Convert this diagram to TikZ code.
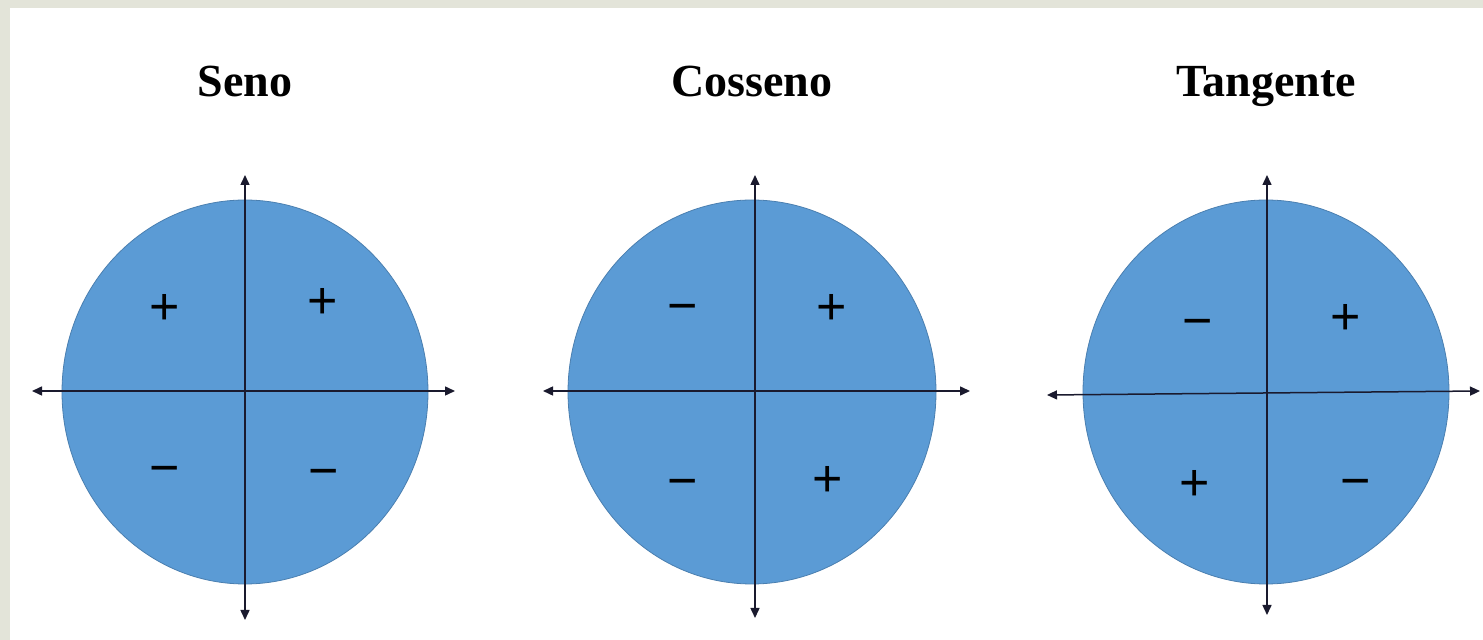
\documentclass[tikz,border=0pt]{standalone}
\usepackage{fontspec}
\setmainfont{Liberation Serif}
\newfontfamily\signfont{Liberation Sans}
\usetikzlibrary{arrows.meta}
\definecolor{framegray}{HTML}{E3E4D9}
\definecolor{discblue}{HTML}{5B9BD5}
\definecolor{discedge}{HTML}{4A7FB0}
\definecolor{axiscol}{HTML}{1A1A2E}
\tikzset{
  title/.style={font=\fontsize{23}{27}\selectfont\bfseries, anchor=base},
  disc/.style={fill=discblue, draw=discedge, line width=0.4pt},
  axis/.style={draw=axiscol, line width=0.75pt, {Triangle[length=5pt,width=4.5pt]}-{Triangle[length=5pt,width=4.5pt]}},
  sign/.style={font=\signfont\fontsize{26}{28}\selectfont, text=black, inner sep=0pt, anchor=center}
}
\begin{document}
\begin{tikzpicture}[x=0.5pt,y=-0.5pt]
\useasboundingbox (0,0) rectangle (1483,640);
\fill[framegray] (0,0) rectangle (1483,640);
\fill[white] (10,8) rectangle (1483,640);

% titles
\node[title] (t1) at (245,97) {Seno};
\node[title] (t2) at (752,97) {Cosseno};
\node[title] (t3) at (1266,97) {Tangente};

% discs
\path[disc] (245,392) ellipse [x radius=183, y radius=192];
\path[disc] (752,392) ellipse [x radius=184, y radius=192];
\path[disc] (1266,392) ellipse [x radius=183, y radius=192];

% axes: named end coordinates
\coordinate (a1t) at (245,175); \coordinate (a1b) at (245,620);
\coordinate (a1l) at (32,391);  \coordinate (a1r) at (455,391);
\coordinate (a2t) at (755,175); \coordinate (a2b) at (755,618);
\coordinate (a2l) at (543,391); \coordinate (a2r) at (970,391);
\coordinate (a3t) at (1267,175); \coordinate (a3b) at (1267,615);
\coordinate (a3l) at (1047,395); \coordinate (a3r) at (1480,391);
\draw[axis] (a1b) -- (a1t);
\draw[axis] (a1l) -- (a1r);
\draw[axis] (a2b) -- (a2t);
\draw[axis] (a2l) -- (a2r);
\draw[axis] (a3b) -- (a3t);
\draw[axis] (a3l) -- (a3r);

% signs: Seno
\node[sign] (s1) at (165,309) {+};
\node[sign] (s2) at (323,303) {+};
\node[sign] (s3) at (165,476) {−};
\node[sign] (s4) at (324,479) {−};
% Cosseno
\node[sign] (c1) at (683,314) {−};
\node[sign] (c2) at (832,309) {+};
\node[sign] (c3) at (683,489) {−};
\node[sign] (c4) at (828,481) {+};
% Tangente
\node[sign] (g1) at (1198,329) {−};
\node[sign] (g2) at (1346,319) {+};
\node[sign] (g3) at (1195,485) {+};
\node[sign] (g4) at (1356,489) {−};
\end{tikzpicture}
\end{document}
